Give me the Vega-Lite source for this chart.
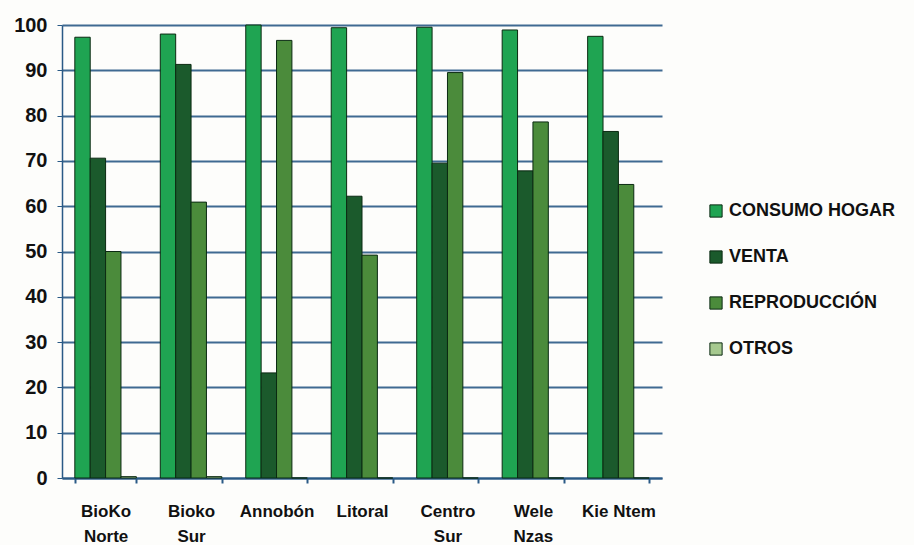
{
  "$schema": "https://vega.github.io/schema/vega-lite/v6.json",
  "width": 600,
  "height": 453,
  "autosize": "none",
  "padding": {"left": 62, "top": 25, "right": 252, "bottom": 67},
  "background": "#fdfdfb",
  "config": {
    "view": {"stroke": null},
    "font": "Liberation Sans, Arial"
  },
  "data": {
    "values": [
      {"region": "BioKo Norte", "uso": "CONSUMO HOGAR", "valor": 97.3},
      {"region": "BioKo Norte", "uso": "VENTA", "valor": 70.6},
      {"region": "BioKo Norte", "uso": "REPRODUCCIÓN", "valor": 50},
      {"region": "BioKo Norte", "uso": "OTROS", "valor": 0.3},
      {"region": "Bioko Sur", "uso": "CONSUMO HOGAR", "valor": 98},
      {"region": "Bioko Sur", "uso": "VENTA", "valor": 91.3},
      {"region": "Bioko Sur", "uso": "REPRODUCCIÓN", "valor": 60.9},
      {"region": "Bioko Sur", "uso": "OTROS", "valor": 0.3},
      {"region": "Annobón", "uso": "CONSUMO HOGAR", "valor": 100},
      {"region": "Annobón", "uso": "VENTA", "valor": 23.2},
      {"region": "Annobón", "uso": "REPRODUCCIÓN", "valor": 96.6},
      {"region": "Annobón", "uso": "OTROS", "valor": 0},
      {"region": "Litoral", "uso": "CONSUMO HOGAR", "valor": 99.4},
      {"region": "Litoral", "uso": "VENTA", "valor": 62.2},
      {"region": "Litoral", "uso": "REPRODUCCIÓN", "valor": 49.2},
      {"region": "Litoral", "uso": "OTROS", "valor": 0},
      {"region": "Centro Sur", "uso": "CONSUMO HOGAR", "valor": 99.5},
      {"region": "Centro Sur", "uso": "VENTA", "valor": 69.5},
      {"region": "Centro Sur", "uso": "REPRODUCCIÓN", "valor": 89.5},
      {"region": "Centro Sur", "uso": "OTROS", "valor": 0},
      {"region": "Wele Nzas", "uso": "CONSUMO HOGAR", "valor": 98.9},
      {"region": "Wele Nzas", "uso": "VENTA", "valor": 67.8},
      {"region": "Wele Nzas", "uso": "REPRODUCCIÓN", "valor": 78.6},
      {"region": "Wele Nzas", "uso": "OTROS", "valor": 0},
      {"region": "Kie Ntem", "uso": "CONSUMO HOGAR", "valor": 97.5},
      {"region": "Kie Ntem", "uso": "VENTA", "valor": 76.5},
      {"region": "Kie Ntem", "uso": "REPRODUCCIÓN", "valor": 64.8},
      {"region": "Kie Ntem", "uso": "OTROS", "valor": 0}
    ]
  },
  "mark": {"type": "bar", "stroke": "#0b2a12", "strokeWidth": 1},
  "encoding": {
    "x": {
      "field": "region",
      "type": "nominal",
      "sort": null,
      "title": null,
      "scale": {"paddingInner": 0.28, "paddingOuter": 0.15},
      "axis": {
        "labelAngle": 0,
        "labelFontSize": 17,
        "labelFontWeight": "bold",
        "labelColor": "#111",
        "labelPadding": 20,
        "labelBaseline": "top",
        "labelLineHeight": 25,
        "labelExpr": "isString(datum.value) ? (datum.value == 'Kie Ntem' ? datum.value : split(datum.value, ' ')) : ''",
        "domainColor": "#2a5a86",
        "domainWidth": 2,
        "tickColor": "#2a5a86",
        "tickBand": "extent",
        "tickSize": 5,
        "tickWidth": 2,
        "grid": false
      }
    },
    "xOffset": {
      "field": "uso",
      "type": "nominal",
      "sort": ["CONSUMO HOGAR", "VENTA", "REPRODUCCIÓN", "OTROS"]
    },
    "y": {
      "field": "valor",
      "type": "quantitative",
      "title": null,
      "scale": {"domain": [0, 100], "nice": false},
      "axis": {
        "values": [0, 10, 20, 30, 40, 50, 60, 70, 80, 90, 100],
        "labelFontSize": 20,
        "labelFontWeight": "bold",
        "labelColor": "#111",
        "labelPadding": 10,
        "domainColor": "#2a5a86",
        "domainWidth": 1.5,
        "tickColor": "#2a5a86",
        "tickSize": 5,
        "gridColor": "#2a5a86",
        "gridWidth": 2,
        "gridOpacity": 0.9
      }
    },
    "color": {
      "field": "uso",
      "type": "nominal",
      "sort": ["CONSUMO HOGAR", "VENTA", "REPRODUCCIÓN", "OTROS"],
      "scale": {
        "domain": ["CONSUMO HOGAR", "VENTA", "REPRODUCCIÓN", "OTROS"],
        "range": ["#1fa452", "#1b5a2c", "#4b8b3b", "#a6c98f"]
      },
      "legend": {
        "title": null,
        "orient": "none",
        "legendX": 645,
        "legendY": 177,
        "symbolType": "square",
        "symbolSize": 150,
        "symbolStrokeColor": "#0b2a12",
        "symbolStrokeWidth": 1,
        "labelFontSize": 18,
        "labelFontWeight": "bold",
        "labelColor": "#111",
        "labelOffset": 4,
        "rowPadding": 28,
        "labelLimit": 300
      }
    }
  }
}
